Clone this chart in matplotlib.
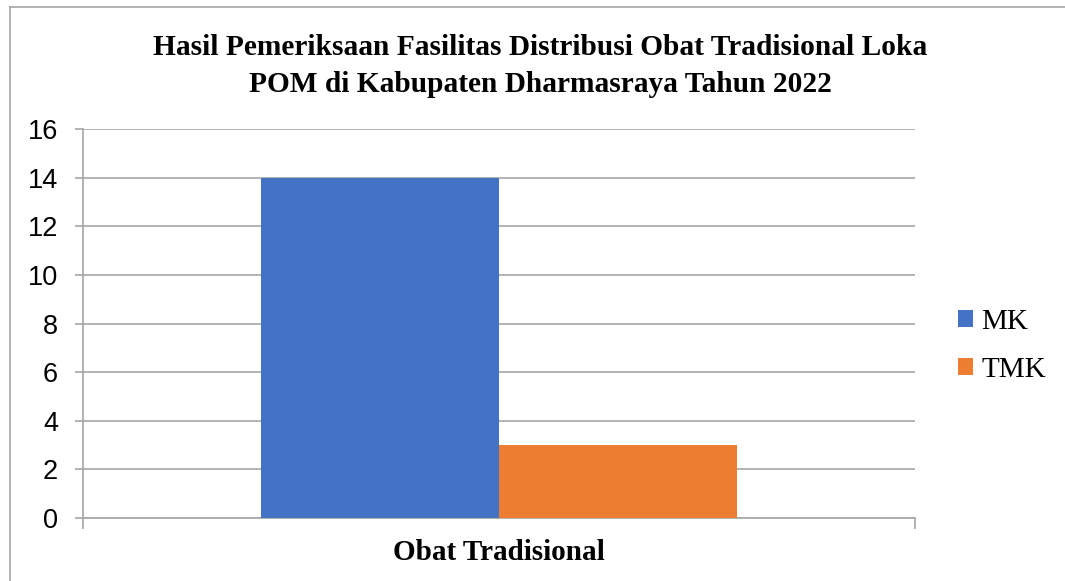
import matplotlib.pyplot as plt
from matplotlib.lines import Line2D
import numpy as np

categories = ["Obat Tradisional"]
series = ["MK", "TMK"]
values = {"MK": [14], "TMK": [3]}
colors = {"MK": "#4472C4", "TMK": "#ED7D31"}
yticks = [0, 2, 4, 6, 8, 10, 12, 14, 16]

fig = plt.figure(figsize=(10.65, 5.81), dpi=100)
ax = fig.add_axes([83/1065, 1 - 518/581, 832/1065, (518 - 129)/581])

x = np.arange(len(categories))
w = 0.286
for i, s in enumerate(series):
    ax.bar(x + (i - 0.5) * w, values[s], width=w, align="center",
           color=colors[s], label=s, zorder=3)

ax.set_xlim(-0.5, 0.5)
ax.set_ylim(0, 16)
ax.set_yticks(yticks)
ax.set_yticklabels([str(t) for t in yticks], fontfamily="Liberation Sans", fontsize=19.5)
ax.yaxis.grid(True, color="#A6A6A6", linewidth=1.2, zorder=0)
ax.set_xticks([-0.5, 0.5])
ax.set_xticklabels(["", ""])
ax.tick_params(axis="y", length=6, color="#A6A6A6", width=1.2, pad=12)
ax.tick_params(axis="x", length=8, color="#A6A6A6", width=1.2)
for side in ["top", "right"]:
    ax.spines[side].set_visible(False)
ax.spines["left"].set_color("#A6A6A6")
ax.spines["bottom"].set_color("#A6A6A6")
ax.spines["left"].set_linewidth(1.2)
ax.spines["bottom"].set_linewidth(1.2)

fig.text(499/1065, 1 - 553/581, categories[0], ha="center", va="center",
         fontfamily="Liberation Serif", fontweight="bold", fontsize=21)

fig.text(540/1065, 1 - 66/581,
         "Hasil Pemeriksaan Fasilitas Distribusi Obat Tradisional Loka\nPOM di Kabupaten Dharmasraya Tahun 2022",
         ha="center", va="center", fontfamily="Liberation Serif", fontweight="bold",
         fontsize=21.2, linespacing=1.45)

leg = ax.legend(loc="center left", bbox_to_anchor=(932/1065, 1 - 346/581),
                bbox_transform=fig.transFigure,
                frameon=False, prop={"family": "Liberation Serif", "size": 21},
                handlelength=0.5, handleheight=0.5, handletextpad=0.3, labelspacing=0.75)

# chart border (only top and left edges visible in the crop)
fig.add_artist(Line2D([10/1065, 10/1065], [0, 1 - 7/581], transform=fig.transFigure,
                      color="#A6A6A6", linewidth=1.2))
fig.add_artist(Line2D([10/1065, 1], [1 - 7/581, 1 - 7/581], transform=fig.transFigure,
                      color="#A6A6A6", linewidth=1.2))

fig.savefig("out.png", dpi=100)
